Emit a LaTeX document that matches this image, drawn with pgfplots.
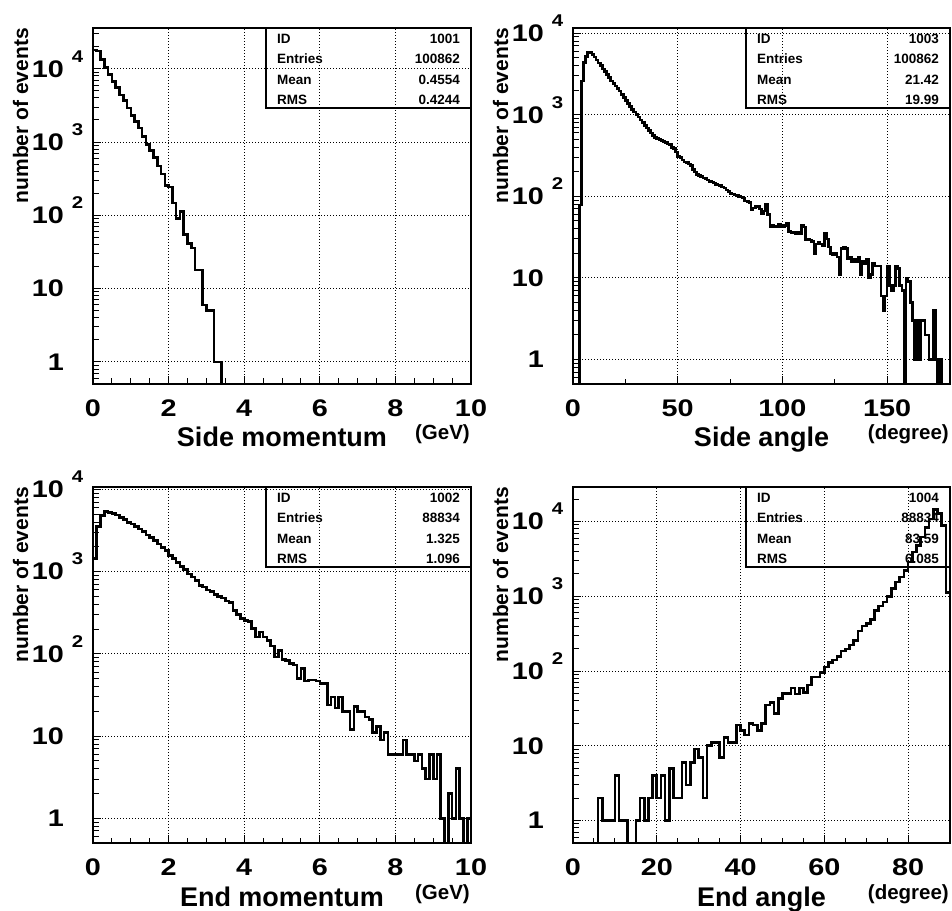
\documentclass[border=0pt]{standalone}
\usepackage{pgfplots}
\pgfplotsset{compat=1.18}
\usepackage{fontspec}
\setmainfont{Liberation Sans}
\newfontfamily\tickff[FakeStretch=1.2]{Liberation Sans Bold}
\newcommand\tickfont{\tickff\fontsize{24}{24}\selectfont}
\newcommand\ex[1]{\rlap{\hspace{8pt}\raisebox{15pt}[0pt][0pt]{\tickff\fontsize{17}{17}\selectfont #1}}}
\newcommand\xlabfont{\bfseries\fontsize{27}{27}\selectfont}
\newcommand\unitfont{\bfseries\fontsize{20.5}{20.5}\selectfont}
\newcommand\ylabfont{\bfseries\fontsize{21}{21}\selectfont}
\newcommand\boxfont{\bfseries\fontsize{13.5}{13.5}\selectfont}
\newcommand\statbox[7]{%
\begin{scope}[x=1pt,y=1pt,shift={(#1,#2)}]
\draw[line width=1.2pt] (0,0) rectangle (#3,-80);
\path[font=\boxfont, inner sep=0pt]
 (11,-15.2) node[anchor=base west]{ID}
 (#3-11,-15.2) node[anchor=base east]{#4}
 (11,-35.2) node[anchor=base west]{Entries}
 (#3-11,-35.2) node[anchor=base east]{#5}
 (11,-56.2) node[anchor=base west]{Mean}
 (#3-11,-56.2) node[anchor=base east]{#6}
 (11,-76.2) node[anchor=base west]{RMS}
 (#3-11,-76.2) node[anchor=base east]{#7};
\end{scope}}
\pgfplotsset{rootframe/.style={
  scale only axis, height=356pt, anchor=south west,
  ymin=0.5,
  axis line style={line width=1.2pt},
  tick style={black, line width=1pt},
  major tick length=8pt, minor tick length=5.5pt,
  tick align=inside, xtick pos=left, ytick pos=left,
  grid=major,
  major grid style={black, line width=0.9pt, dash pattern=on 1pt off 2pt},
  ytick={1,10,100,1000,10000},
  yticklabels={1,10,{10\ex{2}},{10\ex{3}},{10\ex{4}}},
  minor ytick={0.5,0.6,0.7,0.8,0.9,2,3,4,5,6,7,8,9,20,30,40,50,60,70,80,90,200,300,400,500,600,700,800,900,2000,3000,4000,5000,6000,7000,8000,9000,20000,30000},
  yticklabel style={font=\tickfont, anchor=east, inner sep=0pt, xshift=-29pt},
  xticklabel style={font=\tickfont, anchor=north, inner sep=0pt, yshift=-16pt},
}}
\begin{document}
\begin{tikzpicture}
\useasboundingbox (0pt,0pt) rectangle (952pt,910pt);
% ---------- Side momentum ----------
\begin{axis}[ymode=log, rootframe, at={(93pt,526pt)}, width=378pt,
  xmin=0, xmax=10, ymax=36000,
  xtick={0,2,4,6,8,10}, xticklabels={0,2,4,6,8,10}, minor x tick num=3]
\addplot[const plot, black, line width=2.6pt] coordinates {
(0,18000)(0.1,17400)(0.2,13300)(0.3,10500)(0.4,8400)(0.5,6700)(0.6,5500)(0.7,4400)(0.8,3700)(0.9,2900)
(1.0,2300)(1.1,1900)(1.2,1550)(1.3,1200)(1.4,920)(1.5,770)(1.6,610)(1.7,470)(1.8,365)(1.9,255)
(2.0,245)(2.1,148)(2.2,91)(2.3,112)(2.4,55)(2.5,41)(2.6,36)(2.7,18)(2.8,18)(2.9,6)
(3.0,5)(3.1,5)(3.2,1)(3.3,1)(3.4,0.01)(10,0.01)};
\end{axis}
% ---------- Side angle ----------
\begin{axis}[ymode=log, rootframe, at={(573pt,526pt)}, width=377pt,
  xmin=0, xmax=180, ymax=11600,
  xtick={0,50,100,150}, xticklabels={0,50,100,150}, minor x tick num=1]
\addplot[const plot, black, line width=2.6pt] coordinates {
(0,0.01)(1,0.01)(2,0.01)(3,78)(4,2600)(5,4400)(6,5200)(7,5800)(8,5800)(9,5500)
(10,5100)(11,4700)(12,4300)(13,4000)(14,3650)(15,3400)(16,3100)(17,2850)(18,2600)(19,2400)
(20,2250)(21,2100)(22,1950)(23,1780)(24,1640)(25,1500)(26,1380)(27,1260)(28,1160)(29,1080)
(30,1000)(31,940)(32,860)(33,800)(34,740)(35,690)(36,640)(37,600)(38,560)(39,530)
(40,510)(41,500)(42,480)(43,470)(44,455)(45,440)(46,430)(47,400)(48,383)(49,350)
(50,310)(51,300)(52,280)(53,265)(54,262)(55,250)(56,240)(57,215)(58,200)(59,185)
(60,180)(61,175)(62,168)(63,166)(64,158)(65,152)(66,150)(67,145)(68,140)(69,138)
(70,136)(71,130)(72,126)(73,120)(74,114)(75,109)(76,107)(77,104)(78,102)(79,100)
(80,98)(81,95)(82,88)(83,86)(84,84)(85,68)(86,72)(87,75)(88,75)(89,70)
(90,62)(91,66)(92,79)(93,60)(94,43)(95,44)(96,42)(97,43)(98,45)(99,43)
(100,42)(101,44)(102,47)(103,37)(104,36)(105,36)(106,35)(107,36)(108,35)(109,44)
(110,42)(111,29)(112,30)(113,29)(114,28)(115,20)(116,26)(117,27)(118,26)(119,25)
(120,35)(121,30)(122,24)(123,20)(124,19)(125,20)(126,18)(127,11)(128,23)(129,24)
(130,23)(131,17)(132,18)(133,16)(134,17)(135,16)(136,18)(137,11)(138,16)(139,15)
(140,17)(141,10)(142,11)(143,15)(144,14)(145,14)(146,14)(147,6)(148,4)(149,6)
(150,14)(151,8)(152,7)(153,8)(154,14)(155,13)(156,8)(157,7)(158,0.01)(159,10)
(160,9)(161,5)(162,3)(163,1)(164,3)(165,1)(166,3)(167,3)(168,2)(169,2)
(170,1)(171,1)(172,4)(173,1)(174,0.01)(175,1)(176,0.01)(180,0.01)};
\end{axis}
% ---------- End momentum ----------
\begin{axis}[ymode=log, rootframe, at={(93pt,67pt)}, width=378pt,
  xmin=0, xmax=10, ymax=10740,
  xtick={0,2,4,6,8,10}, xticklabels={0,2,4,6,8,10}, minor x tick num=3]
\addplot[const plot, black, line width=2.6pt] coordinates {
(0,1440)(0.1,3540)(0.2,4800)(0.3,5370)(0.4,5250)(0.5,5100)(0.6,4900)(0.7,4600)(0.8,4300)(0.9,4000)
(1.0,3820)(1.1,3570)(1.2,3320)(1.3,3100)(1.4,2800)(1.5,2630)(1.6,2400)(1.7,2170)(1.8,1970)(1.9,1800)
(2.0,1580)(2.1,1450)(2.2,1300)(2.3,1160)(2.4,1060)(2.5,940)(2.6,860)(2.7,780)(2.8,680)(2.9,650)
(3.0,600)(3.1,570)(3.2,530)(3.3,500)(3.4,480)(3.5,440)(3.6,420)(3.7,340)(3.8,300)(3.9,270)
(4.0,256)(4.1,250)(4.2,204)(4.3,160)(4.4,185)(4.5,160)(4.6,146)(4.7,125)(4.8,92)(4.9,110)
(5.0,86)(5.1,83)(5.2,76)(5.3,73)(5.4,50)(5.5,66)(5.6,47)(5.7,48)(5.8,48)(5.9,47)
(6.0,44)(6.1,44)(6.2,24)(6.3,30)(6.4,22)(6.5,30)(6.6,20)(6.7,20)(6.8,12)(6.9,23)
(7.0,20)(7.1,20)(7.2,17)(7.3,16)(7.4,11)(7.5,13)(7.6,9)(7.7,11)(7.8,6)(7.9,6)
(8.0,6)(8.1,6)(8.2,9)(8.3,6)(8.4,6)(8.5,5)(8.6,6)(8.7,4)(8.8,3)(8.9,6)
(9.0,3)(9.1,6)(9.2,1)(9.3,0.01)(9.4,2)(9.5,1)(9.6,4)(9.7,1)(9.8,0.01)(9.9,1)(10,1)};
\end{axis}
% ---------- End angle ----------
\begin{axis}[ymode=log, rootframe, at={(573pt,67pt)}, width=377pt,
  xmin=0, xmax=90, ymax=29000,
  xtick={0,20,40,60,80}, xticklabels={0,20,40,60,80}, minor x tick num=3]
\addplot[const plot, black, line width=2.6pt] coordinates {
(0,0.01)(6,2)(7,1)(8,1)(9,1)(10,4)(11,1)(12,1)(13,0.01)(14,0.01)
(15,1)(16,2)(17,1)(18,2)(19,4)(20,2)(21,4)(22,1)(23,5)(24,2)
(25,2)(26,6)(27,3)(28,6)(29,9)(30,7)(31,2)(32,10)(33,11)(34,11)
(35,7)(36,13)(37,11)(38,11)(39,19)(40,16)(41,14)(42,20)(43,19)(44,16)
(45,20)(46,35)(47,38)(48,27)(49,43)(50,50)(51,50)(52,59)(53,49)(54,59)
(55,52)(56,65)(57,83)(58,83)(59,96)(60,113)(61,131)(62,141)(63,156)(64,185)
(65,196)(66,222)(67,258)(68,342)(69,400)(70,434)(71,490)(72,650)(73,745)(74,840)
(75,1000)(76,1260)(77,1550)(78,1820)(79,2200)(80,2870)(81,3900)(82,4800)(83,6200)(84,8300)
(85,10800)(86,14500)(87,12700)(88,8800)(89,1130)(90,1130)};
\end{axis}
% ---------- stats boxes ----------
\statbox{266}{882}{205}{1001}{100862}{0.4554}{0.4244}
\statbox{746}{882}{204}{1003}{100862}{21.42}{19.99}
\statbox{266}{423}{205}{1002}{88834}{1.325}{1.096}
\statbox{746}{423}{204}{1004}{88834}{83.59}{6.085}
% ---------- axis titles ----------
\begin{scope}[x=1pt,y=1pt]
\node[rotate=90, anchor=east, inner sep=0pt, font=\ylabfont] at (20.5,882) {number of events};
\node[rotate=90, anchor=east, inner sep=0pt, font=\ylabfont] at (500.5,882) {number of events};
\node[rotate=90, anchor=east, inner sep=0pt, font=\ylabfont] at (20.5,423) {number of events};
\node[rotate=90, anchor=east, inner sep=0pt, font=\ylabfont] at (500.5,423) {number of events};
\node[anchor=base, inner sep=0pt, font=\xlabfont] at (282,463) {Side momentum};
\node[anchor=base east, inner sep=0pt, font=\unitfont] at (470,470) {(GeV)};
\node[anchor=base, inner sep=0pt, font=\xlabfont] at (761.5,463) {Side angle};
\node[anchor=base east, inner sep=0pt, font=\unitfont] at (949,470) {(degree)};
\node[anchor=base, inner sep=0pt, font=\xlabfont] at (282,4) {End momentum};
\node[anchor=base east, inner sep=0pt, font=\unitfont] at (470,11) {(GeV)};
\node[anchor=base, inner sep=0pt, font=\xlabfont] at (761.5,4) {End angle};
\node[anchor=base east, inner sep=0pt, font=\unitfont] at (949,11) {(degree)};
\end{scope}
\end{tikzpicture}
\end{document}
